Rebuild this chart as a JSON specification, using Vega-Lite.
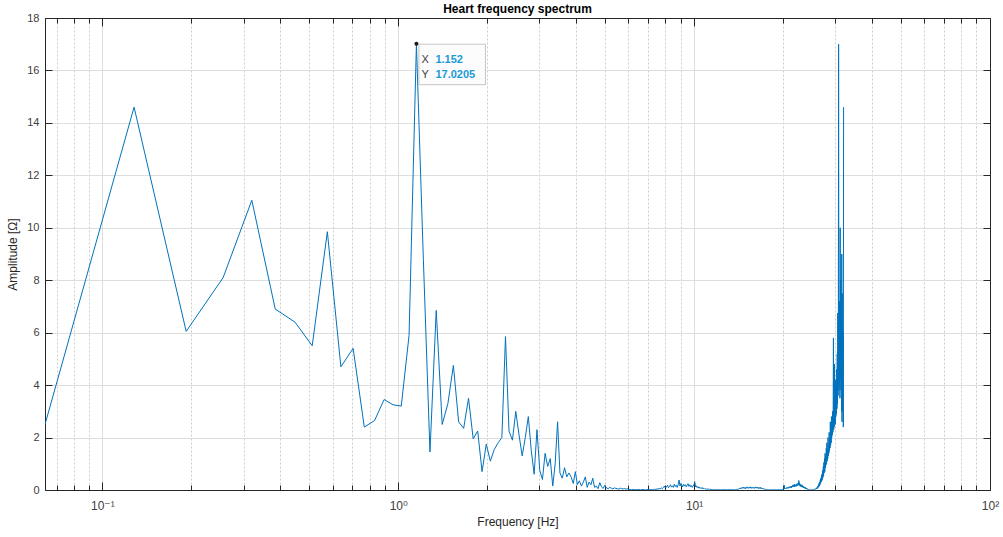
{
  "$schema": "https://vega.github.io/schema/vega-lite/v6.json",
  "width": 945,
  "height": 472,
  "autosize": {"type": "none"},
  "padding": {"left": 45, "top": 18, "right": 13, "bottom": 47},
  "background": "#ffffff",
  "title": {
    "text": "Heart frequency spectrum",
    "font": "Liberation Sans",
    "fontSize": 12,
    "fontWeight": "bold",
    "color": "#000000",
    "anchor": "middle",
    "baseline": "alphabetic",
    "offset": -13
  },
  "config": {
    "font": "Liberation Sans",
    "view": {"stroke": null},
    "axis": {
      "labelFont": "Liberation Sans, DejaVu Sans, sans-serif",
      "titleFont": "Liberation Sans",
      "labelFontSize": 11,
      "titleFontSize": 12,
      "titleFontWeight": "normal",
      "labelColor": "#404040",
      "titleColor": "#262626",
      "domainColor": "#262626",
      "tickColor": "#262626",
      "gridColor": "#dedede",
      "gridOpacity": 1,
      "labelFlush": false,
      "labelOverlap": false
    }
  },
  "datasets": {
    "spectrum": [
      {"f":0.064,"a":2.5},{"f":0.128,"a":14.6},{"f":0.192,"a":6.05},{"f":0.256,"a":8.1},{"f":0.32,"a":11.05},
      {"f":0.384,"a":6.9},{"f":0.448,"a":6.4},{"f":0.512,"a":5.5},{"f":0.576,"a":9.85},{"f":0.64,"a":4.7},
      {"f":0.704,"a":5.4},{"f":0.768,"a":2.4},{"f":0.832,"a":2.65},{"f":0.896,"a":3.45},{"f":0.96,"a":3.25},
      {"f":1.024,"a":3.2},{"f":1.088,"a":5.9},{"f":1.152,"a":17.0205},{"f":1.216,"a":8.8},{"f":1.28,"a":1.45},
      {"f":1.344,"a":6.85},{"f":1.408,"a":2.5},{"f":1.472,"a":3.3},{"f":1.536,"a":4.75},{"f":1.6,"a":2.6},
      {"f":1.664,"a":2.35},{"f":1.728,"a":3.5},{"f":1.792,"a":1.95},{"f":1.856,"a":2.25},{"f":1.92,"a":0.7},
      {"f":1.984,"a":1.75},{"f":2.048,"a":1.1},{"f":2.112,"a":1.55},{"f":2.176,"a":1.8},{"f":2.24,"a":2.0},
      {"f":2.304,"a":5.85},{"f":2.368,"a":2.25},{"f":2.432,"a":1.9},{"f":2.496,"a":3.0},{"f":2.56,"a":2.1},
      {"f":2.624,"a":1.3},{"f":2.688,"a":2.0},{"f":2.752,"a":2.8},{"f":2.816,"a":1.5},{"f":2.88,"a":0.6},
      {"f":2.944,"a":2.3},{"f":3.008,"a":0.75},{"f":3.072,"a":0.4},{"f":3.136,"a":1.4},{"f":3.2,"a":0.9},
      {"f":3.264,"a":1.2},{"f":3.328,"a":0.15},{"f":3.392,"a":1.0},{"f":3.456,"a":2.6},{"f":3.52,"a":0.65},
      {"f":3.584,"a":0.45},{"f":3.648,"a":0.85},{"f":3.712,"a":0.5},{"f":3.776,"a":0.65},{"f":3.84,"a":0.5},
      {"f":3.904,"a":0.25},{"f":3.968,"a":0.7},{"f":4.032,"a":0.2},{"f":4.096,"a":0.35},{"f":4.16,"a":0.15},
      {"f":4.224,"a":0.3},{"f":4.288,"a":0.5},{"f":4.352,"a":0.1},{"f":4.416,"a":0.3},{"f":4.48,"a":0.2},
      {"f":4.544,"a":0.45},{"f":4.608,"a":0.1},{"f":4.672,"a":0.15},{"f":4.736,"a":0.05},{"f":4.8,"a":0.28},
      {"f":4.864,"a":0.12},{"f":4.928,"a":0.06},{"f":4.992,"a":0.18},{"f":5.056,"a":0.08},{"f":5.12,"a":0.05},
      {"f":5.184,"a":0.1},{"f":5.248,"a":0.07},{"f":5.312,"a":0.04},{"f":5.376,"a":0.08},{"f":5.44,"a":0.06},
      {"f":5.504,"a":0.05},{"f":5.568,"a":0.03},{"f":5.632,"a":0.07},{"f":5.696,"a":0.05},{"f":5.76,"a":0.04},
      {"f":5.824,"a":0.06},{"f":5.888,"a":0.03},{"f":5.952,"a":0.05},{"f":6.016,"a":0.02},{"f":6.08,"a":0.02},
      {"f":6.144,"a":0.01},{"f":6.208,"a":0.02},{"f":6.272,"a":0.01},{"f":6.336,"a":0.02},{"f":6.4,"a":0.01},
      {"f":6.464,"a":0.01},{"f":6.528,"a":0.02},{"f":6.592,"a":0.01},{"f":6.656,"a":0.01},{"f":6.72,"a":0.02},
      {"f":6.784,"a":0.01},{"f":6.848,"a":0.01},{"f":6.912,"a":0.01},{"f":6.976,"a":0.02},{"f":7.04,"a":0.01},
      {"f":7.104,"a":0.01},{"f":7.168,"a":0.02},{"f":7.232,"a":0.01},{"f":7.296,"a":0.02},{"f":7.36,"a":0.03},
      {"f":7.424,"a":0.02},{"f":7.488,"a":0.04},{"f":7.552,"a":0.03},{"f":7.616,"a":0.06},{"f":7.68,"a":0.04},
      {"f":7.744,"a":0.08},{"f":7.808,"a":0.05},{"f":7.872,"a":0.1},{"f":7.936,"a":0.15},{"f":8.0,"a":0.07},
      {"f":8.064,"a":0.12},{"f":8.128,"a":0.18},{"f":8.192,"a":0.09},{"f":8.256,"a":0.14},{"f":8.32,"a":0.2},
      {"f":8.384,"a":0.11},{"f":8.448,"a":0.16},{"f":8.512,"a":0.1},{"f":8.576,"a":0.22},{"f":8.64,"a":0.13},
      {"f":8.704,"a":0.18},{"f":8.768,"a":0.1},{"f":8.832,"a":0.2},{"f":8.896,"a":0.38},{"f":8.96,"a":0.15},
      {"f":9.024,"a":0.25},{"f":9.088,"a":0.19},{"f":9.152,"a":0.12},{"f":9.216,"a":0.22},{"f":9.28,"a":0.15},
      {"f":9.344,"a":0.2},{"f":9.408,"a":0.12},{"f":9.472,"a":0.18},{"f":9.536,"a":0.24},{"f":9.6,"a":0.14},
      {"f":9.664,"a":0.2},{"f":9.728,"a":0.12},{"f":9.792,"a":0.17},{"f":9.856,"a":0.1},{"f":9.92,"a":0.15},
      {"f":9.984,"a":0.2},{"f":10.048,"a":0.32},{"f":10.112,"a":0.12},{"f":10.176,"a":0.16},{"f":10.24,"a":0.09},
      {"f":10.304,"a":0.13},{"f":10.368,"a":0.07},{"f":10.432,"a":0.11},{"f":10.496,"a":0.06},{"f":10.56,"a":0.09},
      {"f":10.624,"a":0.05},{"f":10.688,"a":0.09},{"f":10.752,"a":0.04},{"f":10.816,"a":0.06},{"f":10.88,"a":0.03},
      {"f":10.944,"a":0.05},{"f":11.008,"a":0.03},{"f":11.072,"a":0.04},{"f":11.136,"a":0.02},{"f":11.2,"a":0.04},
      {"f":11.264,"a":0.02},{"f":11.328,"a":0.03},{"f":11.392,"a":0.02},{"f":11.456,"a":0.02},{"f":11.52,"a":0.01},
      {"f":11.584,"a":0.01},{"f":11.648,"a":0.02},{"f":11.712,"a":0.01},{"f":11.776,"a":0.01},{"f":11.84,"a":0.02},
      {"f":11.904,"a":0.01},{"f":11.968,"a":0.01},{"f":12.032,"a":0.02},{"f":12.096,"a":0.01},{"f":12.16,"a":0.01},
      {"f":12.224,"a":0.02},{"f":12.288,"a":0.01},{"f":12.352,"a":0.01},{"f":12.416,"a":0.01},{"f":12.48,"a":0.02},
      {"f":12.544,"a":0.01},{"f":12.608,"a":0.01},{"f":12.672,"a":0.02},{"f":12.736,"a":0.01},{"f":12.8,"a":0.01},
      {"f":12.864,"a":0.02},{"f":12.928,"a":0.01},{"f":12.992,"a":0.01},{"f":13.056,"a":0.02},{"f":13.12,"a":0.01},
      {"f":13.184,"a":0.01},{"f":13.248,"a":0.01},{"f":13.312,"a":0.02},{"f":13.376,"a":0.01},{"f":13.44,"a":0.01},
      {"f":13.504,"a":0.02},{"f":13.568,"a":0.01},{"f":13.632,"a":0.02},{"f":13.696,"a":0.01},{"f":13.76,"a":0.02},
      {"f":13.824,"a":0.01},{"f":13.888,"a":0.02},{"f":13.952,"a":0.03},{"f":14.016,"a":0.02},{"f":14.08,"a":0.04},
      {"f":14.144,"a":0.03},{"f":14.208,"a":0.06},{"f":14.272,"a":0.04},{"f":14.336,"a":0.08},{"f":14.4,"a":0.05},
      {"f":14.464,"a":0.09},{"f":14.528,"a":0.06},{"f":14.592,"a":0.1},{"f":14.656,"a":0.07},{"f":14.72,"a":0.11},
      {"f":14.784,"a":0.06},{"f":14.848,"a":0.09},{"f":14.912,"a":0.05},{"f":14.976,"a":0.1},{"f":15.04,"a":0.07},
      {"f":15.104,"a":0.12},{"f":15.168,"a":0.08},{"f":15.232,"a":0.1},{"f":15.296,"a":0.06},{"f":15.36,"a":0.11},
      {"f":15.424,"a":0.08},{"f":15.488,"a":0.12},{"f":15.552,"a":0.07},{"f":15.616,"a":0.1},{"f":15.68,"a":0.06},
      {"f":15.744,"a":0.09},{"f":15.808,"a":0.11},{"f":15.872,"a":0.07},{"f":15.936,"a":0.1},{"f":16.0,"a":0.06},
      {"f":16.064,"a":0.09},{"f":16.128,"a":0.12},{"f":16.192,"a":0.07},{"f":16.256,"a":0.1},{"f":16.32,"a":0.08},
      {"f":16.384,"a":0.11},{"f":16.448,"a":0.06},{"f":16.512,"a":0.09},{"f":16.576,"a":0.05},{"f":16.64,"a":0.08},
      {"f":16.704,"a":0.11},{"f":16.768,"a":0.06},{"f":16.832,"a":0.09},{"f":16.896,"a":0.05},{"f":16.96,"a":0.07},
      {"f":17.024,"a":0.04},{"f":17.088,"a":0.06},{"f":17.152,"a":0.03},{"f":17.216,"a":0.05},{"f":17.28,"a":0.03},
      {"f":17.344,"a":0.04},{"f":17.408,"a":0.02},{"f":17.472,"a":0.03},{"f":17.536,"a":0.02},{"f":17.6,"a":0.01},
      {"f":17.664,"a":0.01},{"f":17.728,"a":0.02},{"f":17.792,"a":0.01},{"f":17.856,"a":0.01},{"f":17.92,"a":0.02},
      {"f":17.984,"a":0.01},{"f":18.048,"a":0.01},{"f":18.112,"a":0.01},{"f":18.176,"a":0.02},{"f":18.24,"a":0.01},
      {"f":18.304,"a":0.01},{"f":18.368,"a":0.02},{"f":18.432,"a":0.01},{"f":18.496,"a":0.01},{"f":18.56,"a":0.01},
      {"f":18.624,"a":0.02},{"f":18.688,"a":0.01},{"f":18.752,"a":0.01},{"f":18.816,"a":0.02},{"f":18.88,"a":0.01},
      {"f":18.944,"a":0.01},{"f":19.008,"a":0.01},{"f":19.072,"a":0.02},{"f":19.136,"a":0.01},{"f":19.2,"a":0.01},
      {"f":19.264,"a":0.02},{"f":19.328,"a":0.01},{"f":19.392,"a":0.01},{"f":19.456,"a":0.01},{"f":19.52,"a":0.02},
      {"f":19.584,"a":0.01},{"f":19.648,"a":0.02},{"f":19.712,"a":0.01},{"f":19.776,"a":0.02},{"f":19.84,"a":0.03},
      {"f":19.904,"a":0.02},{"f":19.968,"a":0.03},{"f":20.032,"a":0.02},{"f":20.096,"a":0.04},{"f":20.16,"a":0.18},
      {"f":20.224,"a":0.05},{"f":20.288,"a":0.04},{"f":20.352,"a":0.07},{"f":20.416,"a":0.05},{"f":20.48,"a":0.08},
      {"f":20.544,"a":0.06},{"f":20.608,"a":0.1},{"f":20.672,"a":0.07},{"f":20.736,"a":0.09},{"f":20.8,"a":0.06},
      {"f":20.864,"a":0.11},{"f":20.928,"a":0.08},{"f":20.992,"a":0.12},{"f":21.056,"a":0.09},{"f":21.12,"a":0.14},
      {"f":21.184,"a":0.1},{"f":21.248,"a":0.13},{"f":21.312,"a":0.08},{"f":21.376,"a":0.15},{"f":21.44,"a":0.11},
      {"f":21.504,"a":0.17},{"f":21.568,"a":0.12},{"f":21.632,"a":0.2},{"f":21.696,"a":0.14},{"f":21.76,"a":0.18},
      {"f":21.824,"a":0.12},{"f":21.888,"a":0.22},{"f":21.952,"a":0.15},{"f":22.016,"a":0.19},{"f":22.08,"a":0.13},
      {"f":22.144,"a":0.21},{"f":22.208,"a":0.16},{"f":22.272,"a":0.24},{"f":22.336,"a":0.17},{"f":22.4,"a":0.2},
      {"f":22.464,"a":0.26},{"f":22.528,"a":0.18},{"f":22.592,"a":0.36},{"f":22.656,"a":0.2},{"f":22.72,"a":0.27},
      {"f":22.784,"a":0.15},{"f":22.848,"a":0.22},{"f":22.912,"a":0.14},{"f":22.976,"a":0.19},{"f":23.04,"a":0.12},
      {"f":23.104,"a":0.2},{"f":23.168,"a":0.13},{"f":23.232,"a":0.17},{"f":23.296,"a":0.1},{"f":23.36,"a":0.15},
      {"f":23.424,"a":0.09},{"f":23.488,"a":0.13},{"f":23.552,"a":0.08},{"f":23.616,"a":0.11},{"f":23.68,"a":0.06},
      {"f":23.744,"a":0.1},{"f":23.808,"a":0.05},{"f":23.872,"a":0.08},{"f":23.936,"a":0.04},{"f":24.0,"a":0.06},
      {"f":24.064,"a":0.03},{"f":24.128,"a":0.05},{"f":24.192,"a":0.02},{"f":24.256,"a":0.03},{"f":24.32,"a":0.02},
      {"f":24.384,"a":0.02},{"f":24.448,"a":0.01},{"f":24.512,"a":0.01},{"f":24.576,"a":0.02},{"f":24.64,"a":0.01},
      {"f":24.704,"a":0.01},{"f":24.768,"a":0.01},{"f":24.832,"a":0.02},{"f":24.896,"a":0.01},{"f":24.96,"a":0.01},
      {"f":25.024,"a":0.01},{"f":25.088,"a":0.02},{"f":25.152,"a":0.01},{"f":25.216,"a":0.01},{"f":25.28,"a":0.01},
      {"f":25.344,"a":0.02},{"f":25.408,"a":0.01},{"f":25.472,"a":0.02},{"f":25.536,"a":0.03},{"f":25.6,"a":0.02},
      {"f":25.664,"a":0.04},{"f":25.728,"a":0.03},{"f":25.792,"a":0.06},{"f":25.856,"a":0.05},{"f":25.92,"a":0.08},
      {"f":25.984,"a":0.04},{"f":26.048,"a":0.1},{"f":26.112,"a":0.06},{"f":26.176,"a":0.14},{"f":26.24,"a":0.09},
      {"f":26.304,"a":0.2},{"f":26.368,"a":0.12},{"f":26.432,"a":0.25},{"f":26.496,"a":0.15},{"f":26.56,"a":0.3},
      {"f":26.624,"a":0.2},{"f":26.688,"a":0.38},{"f":26.752,"a":0.25},{"f":26.816,"a":0.45},{"f":26.88,"a":0.3},
      {"f":26.944,"a":0.55},{"f":27.008,"a":0.35},{"f":27.072,"a":0.62},{"f":27.136,"a":0.4},{"f":27.2,"a":0.75},
      {"f":27.264,"a":0.48},{"f":27.328,"a":0.9},{"f":27.392,"a":0.55},{"f":27.456,"a":1.05},{"f":27.52,"a":0.65},
      {"f":27.584,"a":1.2},{"f":27.648,"a":0.7},{"f":27.712,"a":1.4},{"f":27.776,"a":0.85},{"f":27.84,"a":1.3},
      {"f":27.904,"a":0.95},{"f":27.968,"a":1.6},{"f":28.032,"a":1.0},{"f":28.096,"a":1.8},{"f":28.16,"a":1.1},
      {"f":28.224,"a":1.5},{"f":28.288,"a":1.2},{"f":28.352,"a":2.0},{"f":28.416,"a":1.3},{"f":28.48,"a":1.7},
      {"f":28.544,"a":1.4},{"f":28.608,"a":2.2},{"f":28.672,"a":1.5},{"f":28.736,"a":1.9},{"f":28.8,"a":1.6},
      {"f":28.864,"a":2.6},{"f":28.928,"a":1.7},{"f":28.992,"a":2.3},{"f":29.056,"a":1.8},{"f":29.12,"a":2.8},
      {"f":29.184,"a":2.0},{"f":29.248,"a":2.5},{"f":29.312,"a":2.1},{"f":29.376,"a":3.0},{"f":29.44,"a":2.2},
      {"f":29.504,"a":2.7},{"f":29.568,"a":5.8},{"f":29.632,"a":2.3},{"f":29.696,"a":3.2},{"f":29.76,"a":2.4},
      {"f":29.824,"a":4.8},{"f":29.888,"a":2.6},{"f":29.952,"a":3.6},{"f":30.016,"a":2.5},{"f":30.08,"a":4.2},
      {"f":30.144,"a":2.8},{"f":30.208,"a":3.9},{"f":30.272,"a":2.9},{"f":30.336,"a":4.6},{"f":30.4,"a":3.1},
      {"f":30.464,"a":5.2},{"f":30.528,"a":3.3},{"f":30.592,"a":6.75},{"f":30.656,"a":3.6},{"f":30.72,"a":5.5},
      {"f":30.784,"a":17.0},{"f":30.848,"a":3.8},{"f":30.912,"a":6.2},{"f":30.976,"a":4.0},{"f":31.04,"a":7.2},
      {"f":31.104,"a":3.5},{"f":31.168,"a":10.0},{"f":31.232,"a":4.2},{"f":31.296,"a":8.0},{"f":31.36,"a":3.8},
      {"f":31.424,"a":6.5},{"f":31.488,"a":3.0},{"f":31.552,"a":9.0},{"f":31.616,"a":2.6},{"f":31.68,"a":7.5},
      {"f":31.744,"a":3.0},{"f":31.808,"a":4.5},{"f":31.872,"a":6.0},{"f":31.936,"a":2.4},{"f":32.0,"a":14.6}
    ]
  },
  "resolve": {"axis": {"x": "independent", "y": "independent"}},
  "layer": [
    {
      "data": {"values": [{"f": 1, "a": 1}]},
      "mark": {"type": "point", "opacity": 0},
      "encoding": {
        "x": {"field": "f", "type": "quantitative",
          "scale": {"type": "log", "domain": [0.064, 100], "nice": false},
          "axis": {"orient": "bottom", "values": [0.07,0.08,0.09,0.2,0.3,0.4,0.5,0.6,0.7,0.8,0.9,2,3,4,5,6,7,8,9,20,30,40,50,60,70,80,90],
            "grid": true, "gridDash": [2, 2], "gridColor": "#cdcdcd", "labels": false, "domain": false,
            "ticks": true, "tickSize": -5, "title": null}},
        "y": {"field": "a", "type": "quantitative", "scale": {"domain": [0, 18], "nice": false}, "axis": null}
      }
    },
    {
      "data": {"values": [{"f": 1, "a": 1}]},
      "mark": {"type": "point", "opacity": 0},
      "encoding": {
        "x": {"field": "f", "type": "quantitative",
          "scale": {"type": "log", "domain": [0.064, 100], "nice": false},
          "axis": {"orient": "top", "values": [0.07,0.08,0.09,0.2,0.3,0.4,0.5,0.6,0.7,0.8,0.9,2,3,4,5,6,7,8,9,20,30,40,50,60,70,80,90],
            "grid": false, "labels": false, "domain": false, "ticks": true, "tickSize": -5, "title": null}},
        "y": {"field": "a", "type": "quantitative", "scale": {"domain": [0, 18], "nice": false}, "axis": null}
      }
    },
    {
      "data": {"values": [{"f": 1, "a": 1}]},
      "mark": {"type": "point", "opacity": 0},
      "encoding": {
        "x": {"field": "f", "type": "quantitative",
          "scale": {"type": "log", "domain": [0.064, 100], "nice": false},
          "axis": {"orient": "top", "values": [0.1, 1, 10, 100], "grid": false, "labels": false,
            "domain": true, "ticks": true, "tickSize": -8, "title": null}},
        "y": {"field": "a", "type": "quantitative", "scale": {"domain": [0, 18], "nice": false},
          "axis": {"orient": "right", "values": [0,2,4,6,8,10,12,14,16,18], "grid": false, "labels": false,
            "domain": true, "ticks": true, "tickSize": -7, "title": null}}
      }
    },
    {
      "data": {"values": [{"f": 1, "a": 1}]},
      "mark": {"type": "point", "opacity": 0},
      "encoding": {
        "x": {"field": "f", "type": "quantitative",
          "scale": {"type": "log", "domain": [0.064, 100], "nice": false},
          "axis": {"orient": "bottom", "values": [0.1, 1, 10, 100], "grid": true, "labels": false,
            "domain": false, "ticks": true, "tickSize": -8, "title": null}},
        "y": {"field": "a", "type": "quantitative", "scale": {"domain": [0, 18], "nice": false},
          "axis": {"orient": "left", "values": [0,2,4,6,8,10,12,14,16,18], "grid": true, "labels": false,
            "domain": false, "ticks": true, "tickSize": -7, "title": null}}
      }
    },
    {
      "data": {"name": "spectrum"},
      "mark": {"type": "line", "color": "#0072BD", "strokeWidth": 1, "clip": true},
      "encoding": {
        "x": {"field": "f", "type": "quantitative",
          "scale": {"type": "log", "domain": [0.064, 100], "nice": false},
          "axis": {"orient": "bottom", "values": [0.1, 1, 10, 100], "grid": false, "ticks": false,
            "domain": true, "labelPadding": 10, "labelFontSize": 12,
            "labelExpr": "datum.value < 0.5 ? '10⁻¹' : datum.value < 5 ? '10⁰' : datum.value < 50 ? '10¹' : '10²'",
            "title": "Frequency [Hz]", "titlePadding": 5}},
        "y": {"field": "a", "type": "quantitative", "scale": {"domain": [0, 18], "nice": false},
          "axis": {"orient": "left", "values": [0,2,4,6,8,10,12,14,16,18], "grid": false, "ticks": false,
            "domain": true, "labelPadding": 6, "title": "Amplitude [Ω]", "titlePadding": 7}}
      }
    },
    {
      "data": {"values": [{"f": 1.152, "a": 17.0205}]},
      "encoding": {
        "x": {"field": "f", "type": "quantitative",
          "scale": {"type": "log", "domain": [0.064, 100], "nice": false}, "axis": null},
        "y": {"field": "a", "type": "quantitative", "scale": {"domain": [0, 18], "nice": false}, "axis": null}
      },
      "layer": [
        {
          "mark": {"type": "rect", "fill": "#fcfcfc", "stroke": "#c4c4c4", "strokeWidth": 1,
            "xOffset": 2.5, "x2Offset": 69, "yOffset": 0.5, "y2Offset": 41},
          "encoding": {"x2": {"field": "f"}, "y2": {"field": "a"}}
        },
        {
          "mark": {"type": "point", "filled": true, "color": "#1a1a1a", "size": 16, "opacity": 1}
        },
        {
          "mark": {"type": "text", "text": "X", "align": "left", "baseline": "alphabetic",
            "dx": 5, "dy": 19, "fontSize": 11, "color": "#404040", "font": "Liberation Sans"}
        },
        {
          "mark": {"type": "text", "align": "left", "baseline": "alphabetic",
            "dx": 19, "dy": 19, "fontSize": 11, "fontWeight": "bold", "color": "#1a9ad6", "font": "Liberation Sans"},
          "encoding": {"text": {"field": "f", "type": "quantitative", "format": ".3f"}}
        },
        {
          "mark": {"type": "text", "text": "Y", "align": "left", "baseline": "alphabetic",
            "dx": 5, "dy": 34, "fontSize": 11, "color": "#404040", "font": "Liberation Sans"}
        },
        {
          "mark": {"type": "text", "align": "left", "baseline": "alphabetic",
            "dx": 19, "dy": 34, "fontSize": 11, "fontWeight": "bold", "color": "#1a9ad6", "font": "Liberation Sans"},
          "encoding": {"text": {"field": "a", "type": "quantitative", "format": ".4f"}}
        }
      ]
    }
  ]
}
